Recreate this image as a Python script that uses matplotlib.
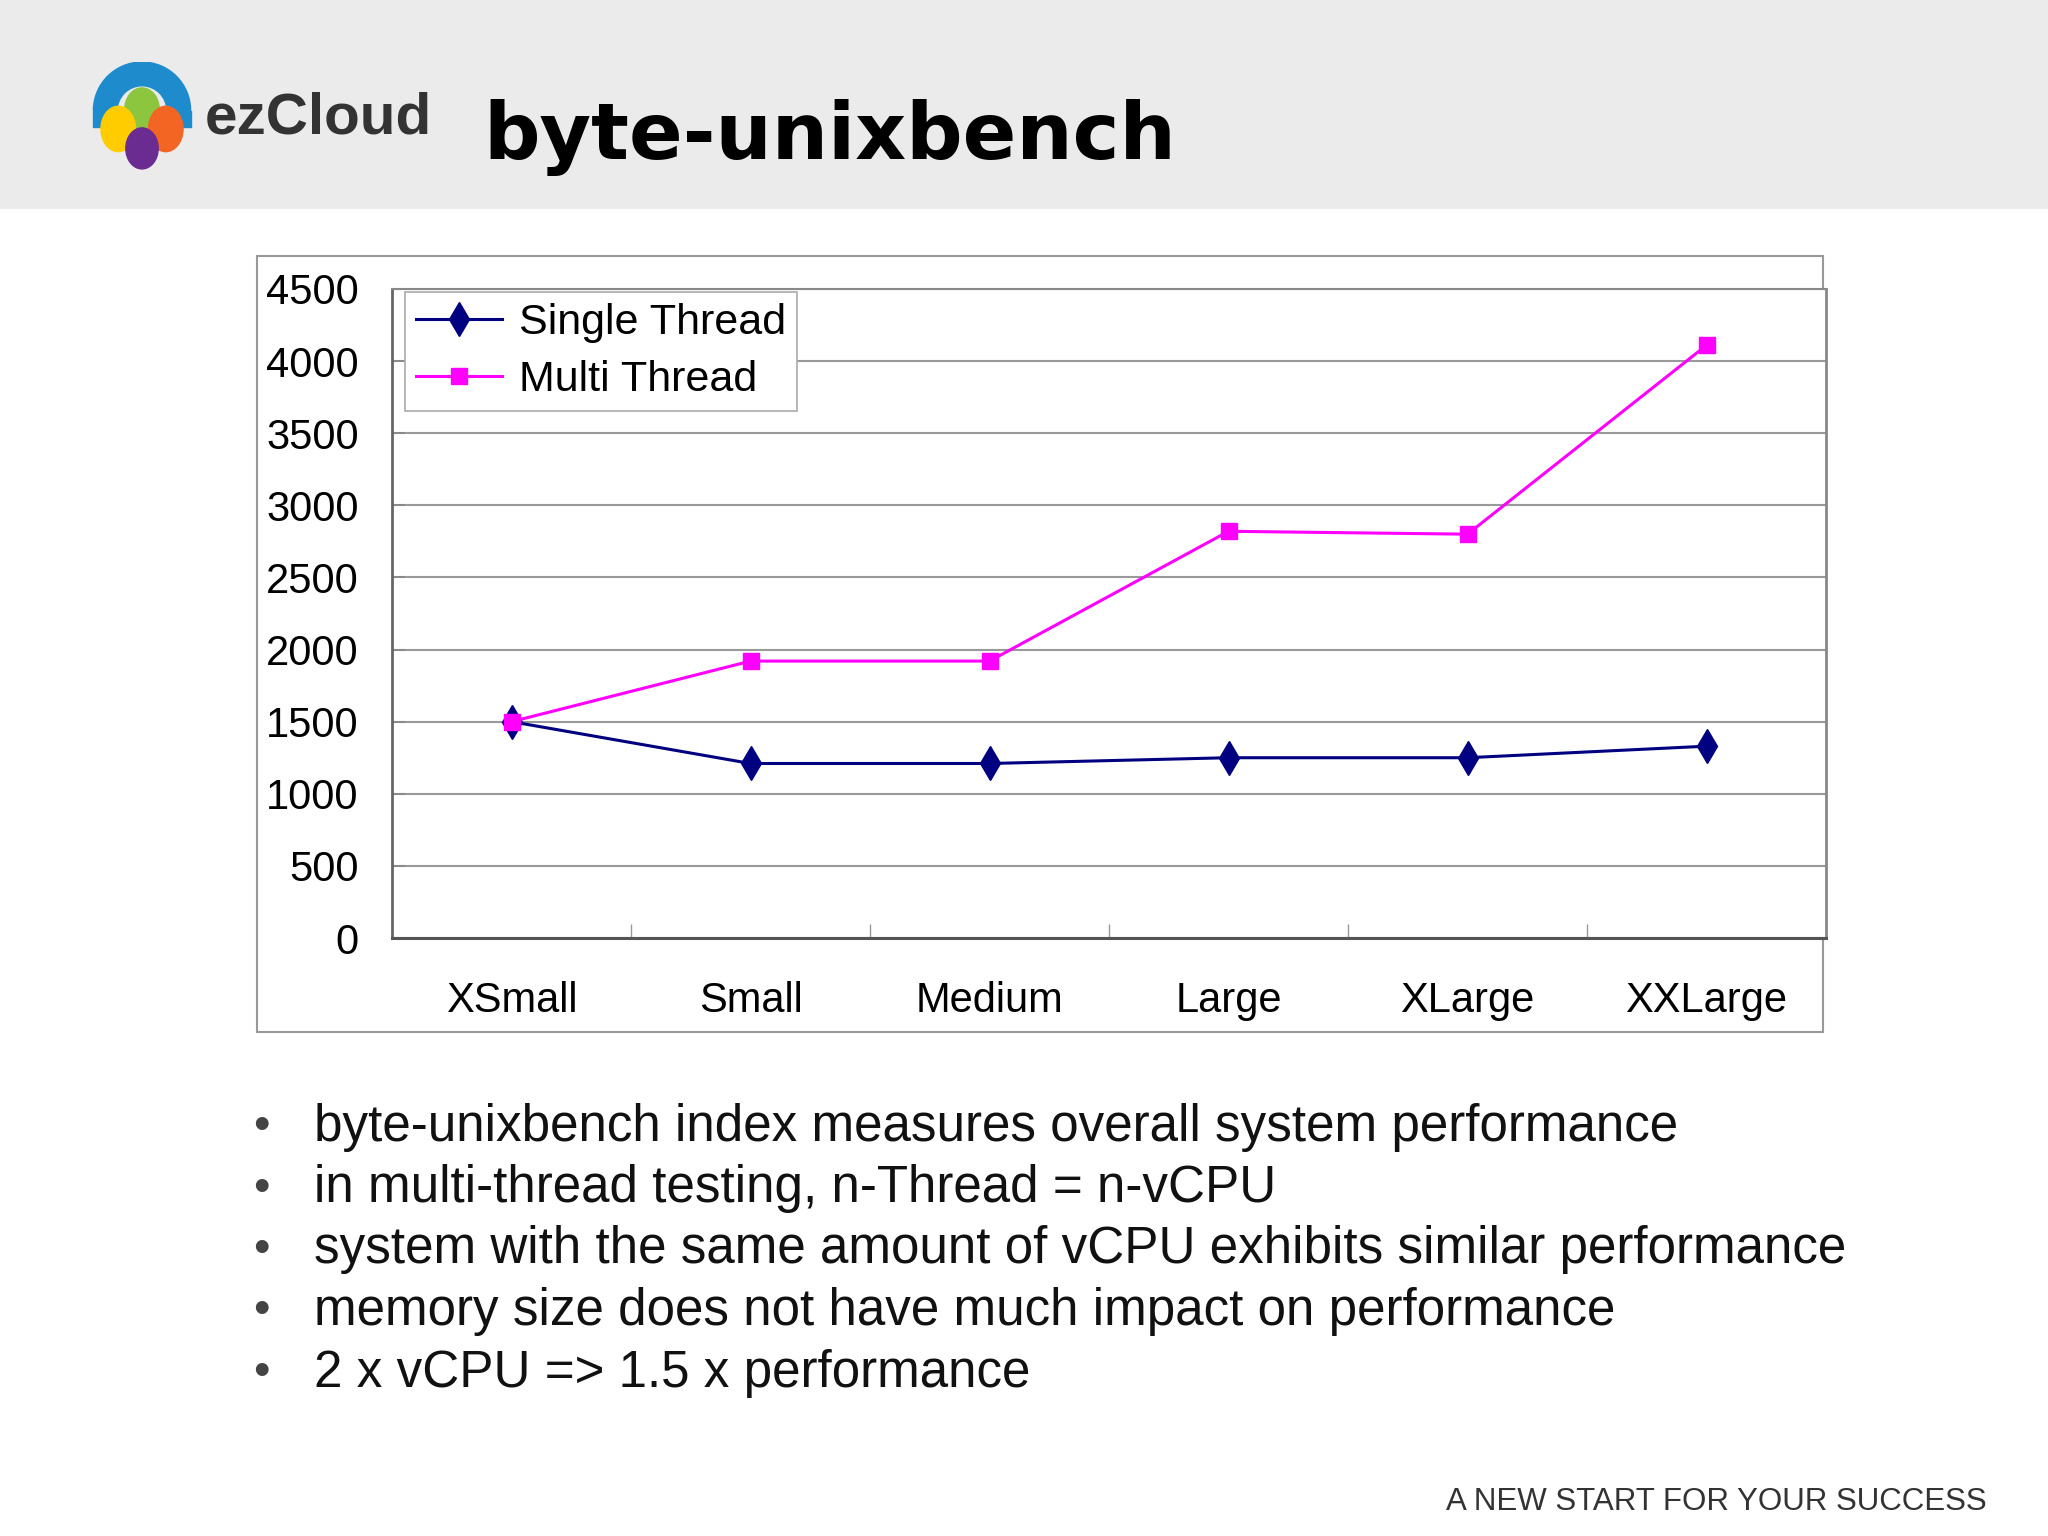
import matplotlib
matplotlib.use('Agg')
import matplotlib.pyplot as plt
from matplotlib.patches import Rectangle, Ellipse, Wedge
from matplotlib.ticker import FixedLocator

# data
sizes = ['XSmall', 'Small', 'Medium', 'Large', 'XLarge', 'XXLarge']
single_thread = [1500, 1210, 1210, 1250, 1250, 1330]
multi_thread = [1500, 1920, 1920, 2820, 2800, 4110]

bullets = ['byte-unixbench index measures overall system performance',
           'in multi-thread testing, n-Thread = n-vCPU',
           'system with the same amount of vCPU exhibits similar performance',
           'memory size does not have much impact on performance',
           '2 x vCPU => 1.5 x performance']

W, H = 2048, 1536
chart_font = 'Liberation Sans'

def fx(x):
    return x / W

def fy(y):
    return 1 - y / H

fig = plt.figure(figsize=(20.48, 15.36), dpi=100)
fig.patch.set_facecolor('white')

# header band
fig.patches.append(Rectangle((0, fy(209)), 1, 209 / H, transform=fig.transFigure,
                             facecolor='#ebebeb', edgecolor='none', zorder=-2))

# ezCloud logo, roughly
logo = fig.add_axes([fx(88), fy(170), fx(108), 108 / H])
logo.set_zorder(3)
logo.set_xlim(0, 100)
logo.set_ylim(0, 100)
logo.set_aspect('equal')
logo.axis('off')
logo.add_patch(Wedge((50, 55), 45, 0, 180, width=22, color='#1e8ccc'))
logo.add_patch(Rectangle((5, 40), 20, 15, color='#1e8ccc'))
logo.add_patch(Rectangle((75, 40), 20, 15, color='#1e8ccc'))
logo.add_patch(Ellipse((50, 56), 32, 40, color='#8cc63f'))
logo.add_patch(Ellipse((28, 38), 32, 42, color='#ffcc00'))
logo.add_patch(Ellipse((72, 38), 32, 42, color='#f26522'))
logo.add_patch(Ellipse((50, 20), 30, 38, color='#6a2c91'))
fig.text(fx(205), fy(118), 'ezCloud', fontsize=42, fontweight='bold',
         color='#333333', va='center', ha='left', family='Liberation Sans')

fig.text(fx(483), fy(138), 'byte-unixbench', fontsize=57, fontweight='bold',
         color='black', va='center', ha='left', family='DejaVu Sans')

# chart outer frame
fig.patches.append(Rectangle((fx(257), fy(1032)), fx(1823 - 257), (1032 - 256) / H,
                             transform=fig.transFigure, facecolor='white',
                             edgecolor='#999999', lw=1.5, zorder=-1))

ax = fig.add_axes([fx(392), fy(938), fx(1826 - 392), (938 - 289) / H])
ax.set_zorder(2)
x = list(range(len(sizes)))
ax.plot(x, single_thread, color='#000080', lw=2.2, marker='d', markersize=17,
        markerfacecolor='#000080', markeredgecolor='#000080', label='Single Thread', zorder=3)
ax.plot(x, multi_thread, color='#ff00ff', lw=2.2, marker='s', markersize=11,
        markerfacecolor='#ff00ff', markeredgecolor='#ff00ff', label='Multi Thread', zorder=4)

ax.set_xlim(-0.5, 5.5)
ax.set_ylim(0, 4500)
ax.set_yticks(range(0, 4501, 500))
ax.set_xticks(x)
ax.set_xticklabels(sizes)
ax.xaxis.set_minor_locator(FixedLocator([0.5, 1.5, 2.5, 3.5, 4.5]))
ax.grid(axis='y', color='#999999', lw=1.5)
ax.set_axisbelow(True)

ax.tick_params(axis='y', direction='in', length=9, width=1.2, color='#888888',
               pad=24, labelsize=30)
ax.tick_params(axis='x', which='major', length=0, pad=31, labelsize=30)
ax.tick_params(axis='x', which='minor', direction='in', length=10, width=1, color='#999999')
for lab in ax.get_xticklabels() + ax.get_yticklabels():
    lab.set_family(chart_font)

ax.spines['left'].set_color('#666666')
ax.spines['bottom'].set_color('#555555')
ax.spines['left'].set_linewidth(2)
ax.spines['bottom'].set_linewidth(2.2)
ax.spines['top'].set_color('#888888')
ax.spines['right'].set_color('#888888')
ax.spines['top'].set_linewidth(1.5)
ax.spines['right'].set_linewidth(2)

leg = ax.legend(loc='upper left', bbox_to_anchor=(0.009, 0.995), fancybox=False,
                framealpha=1, edgecolor='#aaaaaa', prop={'family': chart_font, 'size': 31},
                handlelength=2.0, handletextpad=0.4, borderpad=0.25, labelspacing=0.4,
                borderaxespad=0)
leg.get_frame().set_linewidth(1.2)

# bullets
for i, t in enumerate(bullets):
    yy = fy(1127 + i * 61.5)
    fig.text(fx(261), yy, '\u2022', fontsize=34, color='#444444', va='center', ha='center',
             family='Liberation Sans')
    fig.text(fx(314), yy, t, fontsize=36.8, color='#111111', va='center', ha='left',
             family='Liberation Sans')

fig.text(fx(1987), fy(1502), 'A NEW START FOR YOUR SUCCESS', fontsize=22.5,
         color='#333333', va='center', ha='right', family='Liberation Sans')

fig.savefig('out.png', dpi=100)
